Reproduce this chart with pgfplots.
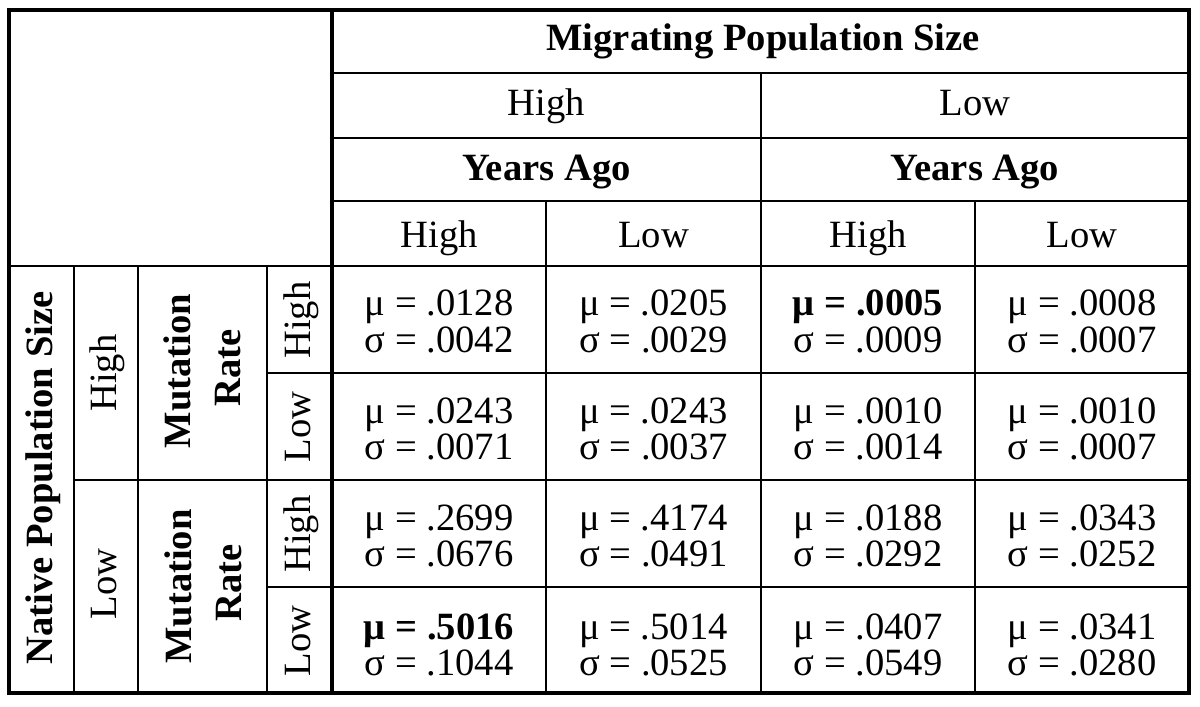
\documentclass[border=0pt]{standalone}
\usepackage{fontspec}
\setmainfont{Liberation Serif}
\usepackage{pgfplots}
\pgfplotsset{compat=1.18}
\begin{document}
\begin{tikzpicture}[font=\fontsize{19.3}{22}\selectfont]
\begin{axis}[
  width=600pt, height=353.5pt, scale only axis,
  xmin=0, xmax=1200, ymin=0, ymax=707, y dir=reverse,
  hide axis, clip=false,
  every node/.append style={inner sep=0pt, font=\fontsize{19.3}{22}\selectfont},
]
\path (axis cs:0,0) rectangle (axis cs:1200,707);
% ---------- grid lines ----------
\begin{scope}[line width=1.35pt, line cap=rect]
\draw (axis cs:332,73) -- (axis cs:1189,73);
\draw (axis cs:332,138) -- (axis cs:1189,138);
\draw (axis cs:332,201) -- (axis cs:1189,201);
\draw (axis cs:9,266) -- (axis cs:1189,266);
\draw (axis cs:74,480) -- (axis cs:1189,480);
\draw (axis cs:267,373) -- (axis cs:1189,373);
\draw (axis cs:267,587) -- (axis cs:1189,587);
\draw (axis cs:761,73) -- (axis cs:761,693);
\draw (axis cs:546,201) -- (axis cs:546,693);
\draw (axis cs:975,201) -- (axis cs:975,693);
\draw (axis cs:74,266) -- (axis cs:74,693);
\draw (axis cs:138,266) -- (axis cs:138,693);
\draw (axis cs:267,266) -- (axis cs:267,693);
\end{scope}
\draw[line width=1.8pt] (axis cs:332,10) -- (axis cs:332,693);
\draw[line width=1.8pt, line join=miter] (axis cs:9,10) rectangle (axis cs:1189,693);
% ---------- column headers ----------
\node[anchor=base] at (axis cs:763,50) {\textbf{Migrating Population Size}};
\node[anchor=base] at (axis cs:546.5,115) {High};
\node[anchor=base] at (axis cs:975,115) {Low};
\node[anchor=base] at (axis cs:546.5,180) {\textbf{Years Ago}};
\node[anchor=base] at (axis cs:975,180) {\textbf{Years Ago}};
\node[anchor=base] at (axis cs:439,247) {High};
\node[anchor=base] at (axis cs:653.5,247) {Low};
\node[anchor=base] at (axis cs:868,247) {High};
\node[anchor=base] at (axis cs:1082,247) {Low};
% ---------- row headers (rotated) ----------
\node[anchor=base, rotate=90] at (axis cs:53,478) {\textbf{Native Population Size}};
\node[anchor=base, rotate=90] at (axis cs:116,373) {High};
\node[anchor=base, rotate=90] at (axis cs:116,584) {Low};
\node[anchor=base, rotate=90] at (axis cs:190,371) {\textbf{Mutation}};
\node[anchor=base, rotate=90] at (axis cs:240,368) {\textbf{Rate}};
\node[anchor=base, rotate=90] at (axis cs:191,586.5) {\textbf{Mutation}};
\node[anchor=base, rotate=90] at (axis cs:241,583) {\textbf{Rate}};
\node[anchor=base, rotate=90] at (axis cs:310,320) {High};
\node[anchor=base, rotate=90] at (axis cs:310,427) {Low};
\node[anchor=base, rotate=90] at (axis cs:310,534) {High};
\node[anchor=base, rotate=90] at (axis cs:310,641) {Low};
% ---------- cells: row 1 ----------
\node[anchor=base] at (axis cs:439,315) {μ = .0128};
\node[anchor=base] at (axis cs:439,352) {σ = .0042};
\node[anchor=base] at (axis cs:653.5,315) {μ = .0205};
\node[anchor=base] at (axis cs:653.5,352) {σ = .0029};
\node[anchor=base] at (axis cs:868,315) {\textbf{μ = .0005}};
\node[anchor=base] at (axis cs:868,352) {σ = .0009};
\node[anchor=base] at (axis cs:1082,315) {μ = .0008};
\node[anchor=base] at (axis cs:1082,352) {σ = .0007};
% row 2
\node[anchor=base] at (axis cs:439,423) {μ = .0243};
\node[anchor=base] at (axis cs:439,459) {σ = .0071};
\node[anchor=base] at (axis cs:653.5,423) {μ = .0243};
\node[anchor=base] at (axis cs:653.5,459) {σ = .0037};
\node[anchor=base] at (axis cs:868,423) {μ = .0010};
\node[anchor=base] at (axis cs:868,459) {σ = .0014};
\node[anchor=base] at (axis cs:1082,423) {μ = .0010};
\node[anchor=base] at (axis cs:1082,459) {σ = .0007};
% row 3
\node[anchor=base] at (axis cs:439,530) {μ = .2699};
\node[anchor=base] at (axis cs:439,566) {σ = .0676};
\node[anchor=base] at (axis cs:653.5,530) {μ = .4174};
\node[anchor=base] at (axis cs:653.5,566) {σ = .0491};
\node[anchor=base] at (axis cs:868,530) {μ = .0188};
\node[anchor=base] at (axis cs:868,566) {σ = .0292};
\node[anchor=base] at (axis cs:1082,530) {μ = .0343};
\node[anchor=base] at (axis cs:1082,566) {σ = .0252};
% row 4
\node[anchor=base] at (axis cs:439,639) {\textbf{μ = .5016}};
\node[anchor=base] at (axis cs:439,675) {σ = .1044};
\node[anchor=base] at (axis cs:653.5,639) {μ = .5014};
\node[anchor=base] at (axis cs:653.5,675) {σ = .0525};
\node[anchor=base] at (axis cs:868,639) {μ = .0407};
\node[anchor=base] at (axis cs:868,675) {σ = .0549};
\node[anchor=base] at (axis cs:1082,639) {μ = .0341};
\node[anchor=base] at (axis cs:1082,675) {σ = .0280};
\end{axis}
\end{tikzpicture}
\end{document}
